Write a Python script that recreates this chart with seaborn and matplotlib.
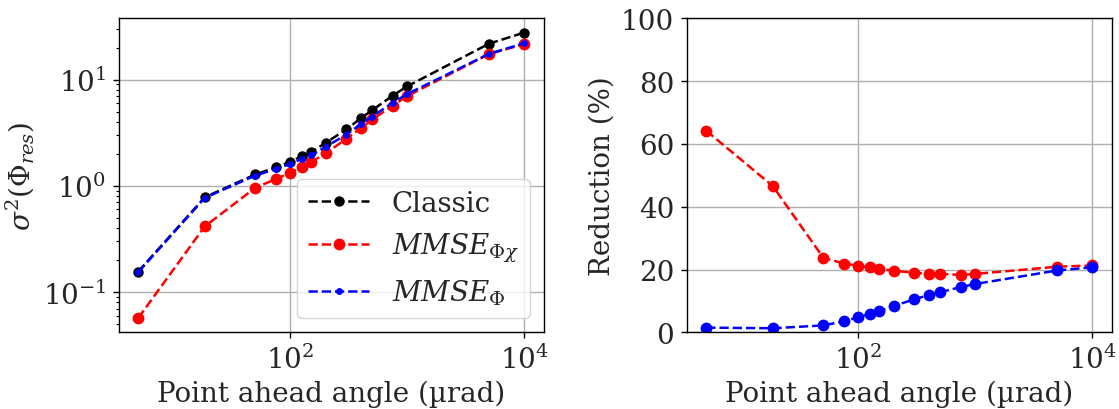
import numpy as np
import pandas as pd
import matplotlib
matplotlib.use("Agg")
import matplotlib.pyplot as plt
import matplotlib.ticker as mticker
import seaborn as sns

# point ahead angle (urad)
angle = [5, 18.5, 50, 75, 100, 125, 150, 200, 300, 400, 500, 750, 1000, 5000, 10000]

# residual variance
classic = [0.156, 0.78, 1.28, 1.49, 1.69, 1.90, 2.07, 2.54, 3.39, 4.33, 5.15, 7.08, 8.66, 21.8, 27.7]
mmse_phichi = [0.057, 0.415, 0.958, 1.16, 1.33, 1.50, 1.67, 2.02, 2.77, 3.49, 4.21, 5.69, 7.02, 17.4, 21.6]
mmse_phi = [0.154, 0.77, 1.25, 1.44, 1.61, 1.79, 1.93, 2.33, 3.03, 3.81, 4.49, 6.06, 7.33, 17.5, 22.0]

# reduction (%) relative to classic
red_phichi = [64.2, 46.6, 23.8, 21.9, 21.2, 20.7, 20.3, 19.6, 19.0, 18.6, 18.6, 18.3, 18.6, 20.9, 21.3]
red_phi = [1.5, 1.3, 2.2, 3.5, 4.8, 5.9, 6.7, 8.4, 10.5, 11.9, 12.8, 14.4, 15.4, 19.7, 20.7]

df = pd.DataFrame({"angle": angle, "classic": classic, "phichi": mmse_phichi,
                   "phi": mmse_phi, "red_phichi": red_phichi, "red_phi": red_phi})

sns.set_style("ticks")
plt.rcParams["font.family"] = "DejaVu Serif"
plt.rcParams["mathtext.fontset"] = "dejavuserif"
plt.rcParams["axes.unicode_minus"] = False
plt.rcParams["font.size"] = 20

fig, (ax1, ax2) = plt.subplots(1, 2, figsize=(11.19, 4.1), dpi=100)
fig.subplots_adjust(left=0.1063, right=0.9935, top=0.953, bottom=0.187, wspace=0.337)

lw = 1.8
sns.lineplot(data=df, x="angle", y="classic", ax=ax1, color="black", linestyle="--", linewidth=lw,
             marker="o", markersize=7.5, markeredgewidth=0, label="Classic")
sns.lineplot(data=df, x="angle", y="phichi", ax=ax1, color="red", linestyle="--", linewidth=lw,
             marker="o", markersize=8.5, markeredgewidth=0, label=r"$MMSE_{\Phi\chi}$")
sns.lineplot(data=df, x="angle", y="phi", ax=ax1, color="blue", linestyle="--", linewidth=lw,
             marker=".", markersize=10, markeredgewidth=0, label=r"$MMSE_{\Phi}$")
ax1.set_xscale("log")
ax1.set_yscale("log")
ax1.set_xlabel("Point ahead angle (µrad)", fontsize=20)
ax1.set_ylabel(r"$\sigma^2(\Phi_{res})$", fontsize=20)
ax1.legend(loc="lower right", fontsize=20, handlelength=2.2)

sns.lineplot(data=df, x="angle", y="red_phichi", ax=ax2, color="red", linestyle="--", linewidth=lw,
             marker="o", markersize=8.5, markeredgewidth=0)
sns.lineplot(data=df, x="angle", y="red_phi", ax=ax2, color="blue", linestyle="--", linewidth=lw,
             marker="o", markersize=8.5, markeredgewidth=0)
ax2.set_xscale("log")
ax2.set_ylim(0, 100)
ax2.set_xlabel("Point ahead angle (µrad)", fontsize=20)
ax2.set_ylabel("Reduction (%)", fontsize=20)

for ax in (ax1, ax2):
    ax.grid(True, which="major", color="#b0b0b0", linewidth=1.0)
    ax.set_xticks([1e2, 1e4])
    ax.xaxis.set_minor_locator(mticker.NullLocator())
    ax.tick_params(which="major", labelsize=20, length=4.3, width=1.0, pad=5)
    ax.tick_params(which="minor", length=2.5, width=0.8)
    for s in ax.spines.values():
        s.set_color("black")
        s.set_linewidth(1.0)
    ax.tick_params(which="both", color="black")

fig.savefig("out.png", dpi=100)
plt.close("all")
